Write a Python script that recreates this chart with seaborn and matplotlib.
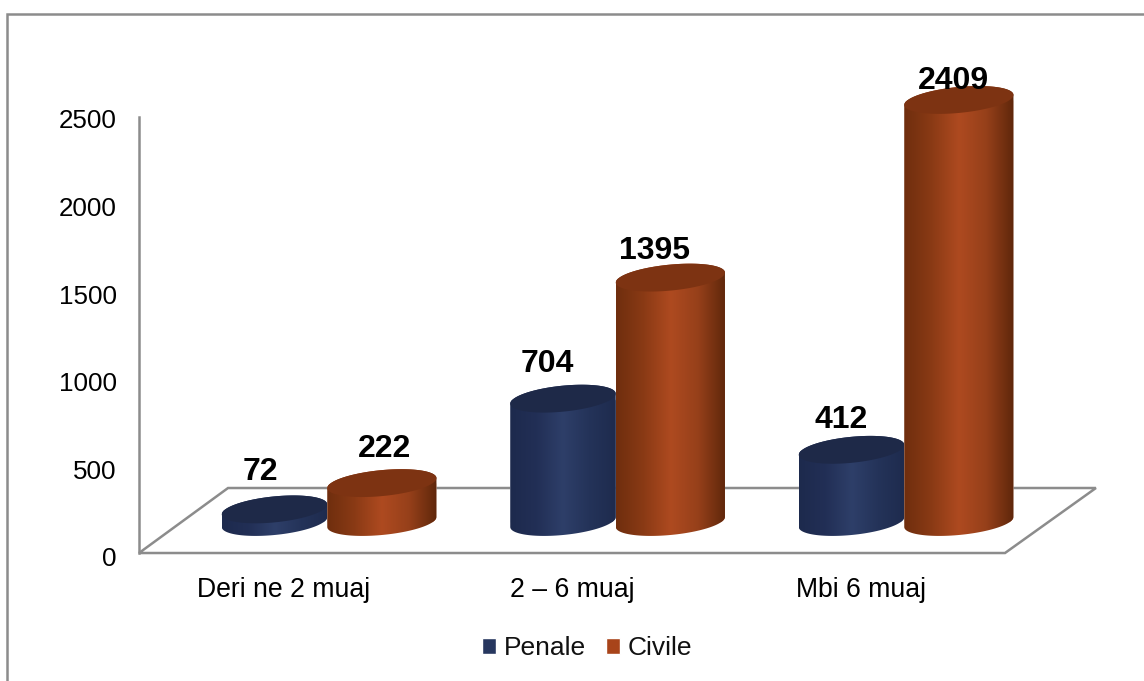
import numpy as np
import pandas as pd
import matplotlib
matplotlib.use('Agg')
import matplotlib.pyplot as plt
from matplotlib.colors import LinearSegmentedColormap
from matplotlib.patches import Polygon, Rectangle
from matplotlib.path import Path
import seaborn as sns

categories = ['Deri ne 2 muaj', '2 – 6 muaj', 'Mbi 6 muaj']
series_names = ['Penale', 'Civile']
penale = [72, 704, 412]
civile = [222, 1395, 2409]
y_ticks = [0, 500, 1000, 1500, 2000, 2500]

W, H = 1144, 681
GRAY = '#8c8c8c'

# cylinder colours per series: side gradient, flat top
palette = {'Penale': '#27375f', 'Civile': '#a8441a'}
sides = {'Penale': ['#1d2a4d', '#222f56', '#2e3f69', '#243359', '#1e2b4e'],
         'Civile': ['#6f2e0e', '#8a3a15', '#ae4a20', '#96401a', '#5f270b']}
tops = {'Penale': '#1e2948', 'Civile': '#7d3312'}
# nudges of the value labels from the bar top, in pixels
label_offsets = {'Penale': [(-14, 37), (-16, 35), (-10, 30)],
                 'Civile': [(3, 34), (-16, 27), (-5, 19)]}

sns.set_theme(style='white', font='Liberation Sans')
plt.rcParams['font.family'] = ['Liberation Sans', 'DejaVu Sans']

fig = plt.figure(figsize=(W / 100, H / 100), dpi=100)


def px_axes(left, right, bottom, top):
    return fig.add_axes([left / W, 1 - bottom / H, (right - left) / W, (bottom - top) / H])


# outer frame runs off the right and bottom of the picture
fig.add_artist(Rectangle((6.5 / W, -0.1), 1.2, 1.1 - 14 / H, transform=fig.transFigure,
                         fill=False, edgecolor=GRAY, linewidth=1.8))

# floor and value axis, tick labels sit a bit lower than the drawn axis line
floor = px_axes(139, 1005, 557, 119)
floor.set_xlim(-0.5, 2.5)
floor.set_ylim(0, 2500)
floor.set_xticks(range(3), categories)
floor.set_yticks(y_ticks, [str(v) for v in y_ticks])
floor.tick_params(axis='x', length=0, pad=14.6, labelsize=19.2, labelcolor='black')
floor.tick_params(axis='y', length=0, pad=16, labelsize=18.7, labelcolor='black')
for s in ['top', 'right', 'bottom']:
    floor.spines[s].set_visible(False)
floor.spines['left'].set_color(GRAY)
floor.spines['left'].set_linewidth(1.8)
floor.spines['left'].set_bounds(23, 2511)
floor.add_patch(Polygon([(0, 0.0091), (0.1028, 0.1575), (1.105, 0.1575), (1, 0.0091)], closed=True,
                        fill=False, edgecolor=GRAY, linewidth=1.8,
                        transform=floor.transAxes, clip_on=False))

# bars sit on the middle of the floor, so their axes are shifted;
# the axes reach below zero to leave room for the round cylinder bottoms
unit = 1 / 0.1752
ax = px_axes(183, 1048.5, 572, 84)
ax.patch.set_visible(False)
df = pd.DataFrame({'cat': categories * 2,
                   'serie': [series_names[0]] * 3 + [series_names[1]] * 3,
                   'val': penale + civile})
sns.barplot(data=df, x='cat', y='val', hue='serie', hue_order=series_names, palette=palette,
            width=0.757, saturation=1, ax=ax)
ax.set_xlim(-0.5, 2.5)
ax.set_ylim(-50 * unit, 2500)

x_unit = 3 / 865.5
b = 13 * unit
tilt = 5 * unit
for k, name in enumerate(series_names):
    cmap = LinearSegmentedColormap.from_list(name, sides[name])
    for j, bar in enumerate(ax.containers[k]):
        if name == 'Penale':
            # the blue cylinders start a little right of their slot
            bar.set_x(bar.get_x() + 3.7 * x_unit)
            bar.set_width(bar.get_width() - 3.7 * x_unit)
        x0, w, h = bar.get_x(), bar.get_width(), bar.get_height()
        cx, a = x0 + w / 2, w / 2
        t = np.linspace(np.pi, 2 * np.pi, 60)
        front = np.c_[cx + a * np.cos(t), b * np.sin(t) + tilt * np.cos(t)]
        t = np.linspace(0, np.pi, 60)
        back = np.c_[cx + a * np.cos(t), h + b * np.sin(t) + tilt * np.cos(t)]
        body = Path(np.r_[front, back, front[:1]], closed=True)
        z = 2 + k * 4
        bar.set_zorder(z)
        bar.set_clip_path(body, ax.transData)
        im = ax.imshow(np.linspace(0, 1, 200)[None, :], cmap=cmap, aspect='auto',
                       extent=(x0, x0 + w, -b - tilt, h + b + tilt), zorder=z + 1)
        im.set_clip_path(body, ax.transData)
        t = np.linspace(0, 2 * np.pi, 120)
        ax.add_patch(Polygon(np.c_[cx + a * np.cos(t), h + b * np.sin(t) + tilt * np.cos(t)],
                             closed=True, facecolor=tops[name], edgecolor='none', zorder=z + 2,
                             clip_on=False))
        ax.annotate(str(int(h)), (cx, h), xytext=label_offsets[name][j], textcoords='offset pixels',
                    ha='center', va='center', fontsize=23, fontweight='bold', color='black',
                    zorder=20, annotation_clip=False)
ax.set_xlim(-0.5, 2.5)
ax.set_ylim(-50 * unit, 2500)
ax.axis('off')

sns.move_legend(ax, loc='center', bbox_to_anchor=(587 / W, 1 - 648 / H),
                bbox_transform=fig.transFigure, ncol=2, frameon=False, title=None,
                fontsize=19, handlelength=0.54, handleheight=0.54, handletextpad=0.3,
                columnspacing=0.75, borderpad=0, labelcolor='#111111')
ax.get_legend().set_zorder(30)

fig.savefig('out.png', dpi=100)
